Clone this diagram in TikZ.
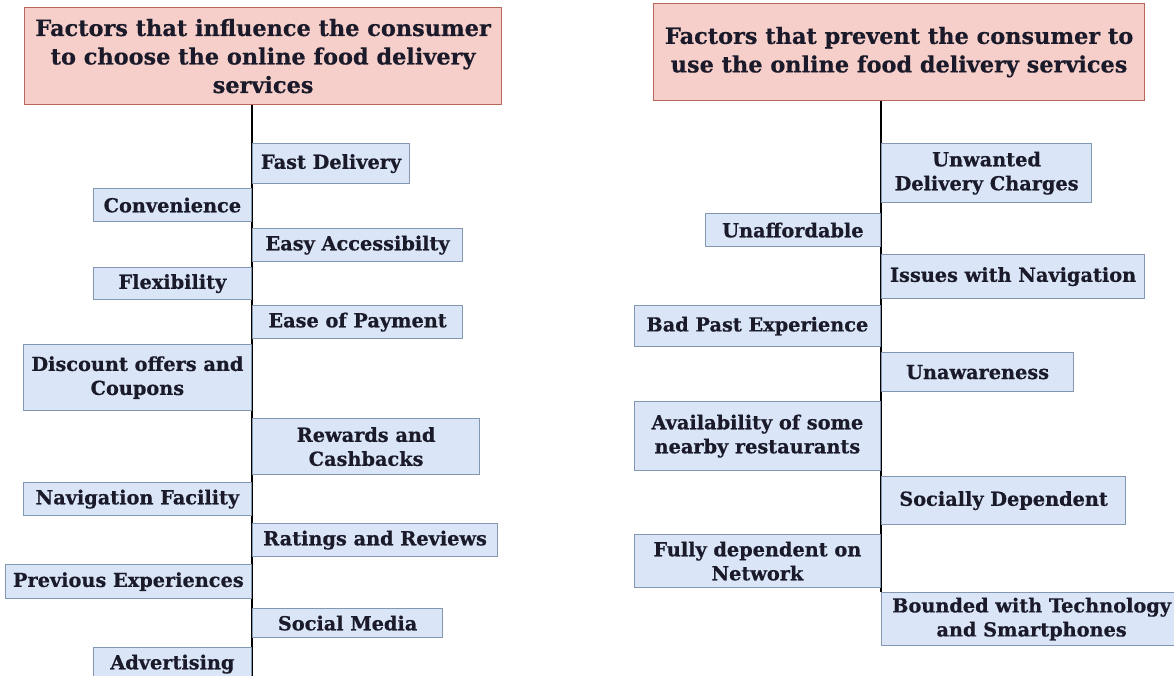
\documentclass[tikz,border=0pt]{standalone}
\usepackage{fontspec}
\setmainfont{DejaVu Serif}[BoldFeatures={FakeBold=0.6}]
\usetikzlibrary{backgrounds}
\definecolor{boxfill}{HTML}{DAE6F7}
\definecolor{boxline}{HTML}{8497B0}
\definecolor{headfill}{HTML}{F7CFCA}
\definecolor{headline}{HTML}{B8675F}
\definecolor{ink}{HTML}{1A1A2A}
\tikzset{
  bx/.style={draw=boxline, fill=boxfill, line width=1.2pt, inner sep=0pt, align=center,
    text=ink, font=\fontsize{19.3}{24}\selectfont\bfseries},
  rbx/.style={bx, anchor=north west},
  lbx/.style={bx, anchor=north east},
  head/.style={draw=headline, fill=headfill, line width=1.2pt, inner sep=0pt, align=center,
    text=ink, anchor=north west, font=\fontsize{22.4}{28.5}\selectfont\bfseries},
  trunk/.style={draw=black, line width=1.5pt}
}
\begin{document}
\begin{tikzpicture}[x=1pt,y=-1pt]
\useasboundingbox (0,0) rectangle (1174,675);
% left column
\node[head, minimum width=477, minimum height=97] (t1) at (24,7) {Factors that influence the consumer\\to choose the online food delivery\\services};
\node[rbx, minimum width=157, minimum height=40] (fd) at (252,143) {Fast Delivery};
\node[lbx, minimum width=158, minimum height=33] (cv) at (252,188) {Convenience};
\node[rbx, minimum width=210, minimum height=33] (ea) at (252,228) {Easy Accessibilty};
\node[lbx, minimum width=158, minimum height=32] (fl) at (252,267) {Flexibility};
\node[rbx, minimum width=210, minimum height=33] (ep) at (252,305) {Ease of Payment};
\node[lbx, minimum width=228, minimum height=66] (dc) at (252,344) {Discount offers and\\Coupons};
\node[rbx, minimum width=227, minimum height=56] (rw) at (252,418) {Rewards and\\Cashbacks};
\node[lbx, minimum width=228, minimum height=33] (nf) at (252,482) {Navigation Facility};
\node[rbx, minimum width=245, minimum height=33] (rr) at (252,523) {Ratings and Reviews};
\node[lbx, minimum width=246, minimum height=34] (pe) at (252,564) {Previous Experiences};
\node[rbx, minimum width=190, minimum height=29] (sm) at (252,608) {Social Media};
\node[lbx, minimum width=158, minimum height=33] (ad) at (252,647) {Advertising};
% right column
\node[head, minimum width=491, minimum height=97] (t2) at (653,3) {Factors that prevent the consumer to\\use the online food delivery services};
\node[rbx, minimum width=210, minimum height=59] (ud) at (881,143) {Unwanted\\Delivery Charges};
\node[lbx, minimum width=175, minimum height=33] (ua) at (881,213) {Unaffordable};
\node[rbx, minimum width=263, minimum height=44] (in) at (881,254) {Issues with Navigation};
\node[lbx, minimum width=246, minimum height=41] (bp) at (881,305) {Bad Past Experience};
\node[rbx, minimum width=192, minimum height=39] (un) at (881,352) {Unawareness};
\node[lbx, minimum width=246, minimum height=69] (av) at (881,401) {Availability of some\\nearby restaurants};
\node[rbx, minimum width=244, minimum height=48] (sd) at (881,476) {Socially Dependent};
\node[lbx, minimum width=246, minimum height=53] (fn) at (881,534) {Fully dependent on\\Network};
\node[rbx, minimum width=300, minimum height=53] (bt) at (881,592) {Bounded with Technology\\and Smartphones};
\begin{scope}[on background layer]
\draw[trunk] (t1.south -| fd.west) -- (ad.south east);
\draw[trunk] (t2.south -| ud.west) -- (bt.north west);
\end{scope}
\end{tikzpicture}
\end{document}
